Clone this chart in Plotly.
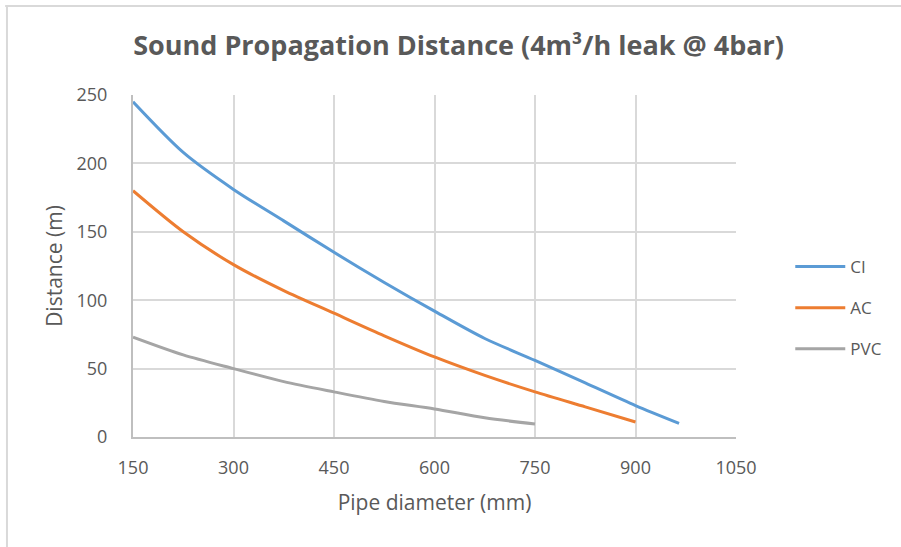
import plotly.graph_objects as go

# Data
ci_x = [150, 225, 300, 375, 450, 525, 600, 675, 750, 825, 900, 965]
ci_y = [245, 208, 181, 158, 135, 113, 92, 72, 56, 39.5, 23, 10]

ac_x = [150, 225, 300, 375, 450, 525, 600, 675, 750, 825, 900]
ac_y = [180, 150, 126, 107, 90.5, 74, 58.5, 45, 33, 22, 11]

pvc_x = [150, 225, 300, 375, 450, 525, 600, 675, 750]
pvc_y = [73, 60, 50, 40.5, 33, 26, 20.5, 14, 9.5]

x_ticks = [150, 300, 450, 600, 750, 900, 1050]
y_ticks = [0, 50, 100, 150, 200, 250]

FONT = "Open Sans"
TXT = "#595959"

fig = go.Figure()
for name, xs, ys, col in [("CI", ci_x, ci_y, "#5B9BD5"),
                          ("AC", ac_x, ac_y, "#ED7D31"),
                          ("PVC", pvc_x, pvc_y, "#A5A5A5")]:
    fig.add_trace(go.Scatter(x=xs, y=ys, name=name, mode="lines", legendgroup=name,
                             line=dict(color=col, width=3, shape="spline", smoothing=0.8)))

fig.update_layout(
    width=901, height=547,
    margin=dict(l=133, r=165, t=95, b=110),
    paper_bgcolor="white", plot_bgcolor="white",
    font=dict(family=FONT, color=TXT, size=16),
    title=dict(text="<b>Sound Propagation Distance (4m³/h leak @ 4bar)</b>",
               x=0.509, xanchor="center", y=0.916, yanchor="middle",
               font=dict(size=27, color=TXT, family=FONT)),
    showlegend=True,
    legend=dict(x=1.09, y=0.377, xanchor="left", yanchor="middle",
                font=dict(size=17, color=TXT), tracegroupgap=16,
                itemwidth=50, bgcolor="rgba(0,0,0,0)"),
    xaxis=dict(range=[150, 1050], tickvals=x_ticks, showgrid=True,
               gridcolor="#D9D9D9", gridwidth=1.5, zeroline=False,
               showline=True, linecolor="#BFBFBF", linewidth=2,
               ticks="", tickfont=dict(size=18, color=TXT), ticklabelstandoff=13,
               title=dict(text="Pipe diameter (mm)", font=dict(size=21, color=TXT), standoff=18)),
    yaxis=dict(range=[0, 250], tickvals=y_ticks, showgrid=True,
               gridcolor="#D9D9D9", gridwidth=1.5, zeroline=False,
               showline=True, linecolor="#BFBFBF", linewidth=2,
               ticks="", tickfont=dict(size=18, color=TXT), ticklabelstandoff=20,
               title=dict(text="Distance (m)", font=dict(size=21, color=TXT), standoff=8)),
    shapes=[
        dict(type="line", xref="paper", yref="paper", x0=-0.212, x1=1.3, y0=1.26, y1=1.26,
             line=dict(color="#D9D9D9", width=2)),
        dict(type="line", xref="paper", yref="paper", x0=-0.209, x1=-0.209, y0=1.263, y1=-0.35,
             line=dict(color="#D9D9D9", width=2)),
    ],
)

fig.write_html("out.html")
